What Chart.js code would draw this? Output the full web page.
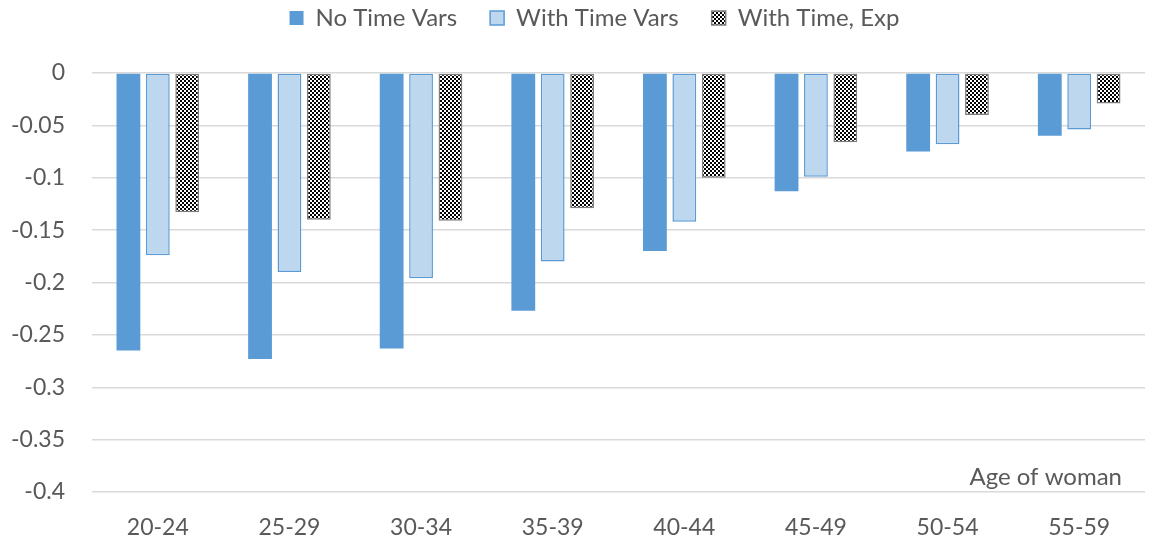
<!DOCTYPE html>
<html><head><meta charset="utf-8">
<script src="https://cdn.jsdelivr.net/npm/chart.js@4.4.1/dist/chart.umd.min.js"></script>
<style>html,body{margin:0;padding:0;background:#fff;}#wrap{width:1150px;height:539px;position:relative;}</style>
</head><body><div id="wrap"><canvas id="c" width="1150" height="539"></canvas></div>
<script>
const categories = ["20-24","25-29","30-34","35-39","40-44","45-49","50-54","55-59"];
const noTimeVars = [-0.265,-0.273,-0.263,-0.227,-0.170,-0.113,-0.075,-0.060];
const withTimeVars = [-0.174,-0.190,-0.196,-0.180,-0.142,-0.099,-0.068,-0.054];
const withTimeExp = [-0.133,-0.140,-0.141,-0.129,-0.100,-0.066,-0.040,-0.029];
const seriesNames = ["No Time Vars","With Time Vars","With Time, Exp"];
const axisTitle = "Age of woman";

const pc = document.createElement('canvas'); pc.width = 4; pc.height = 4;
const px = pc.getContext('2d');
px.fillStyle = '#fff'; px.fillRect(0,0,4,4);
px.fillStyle = '#000'; px.fillRect(0,0,2,2); px.fillRect(2,2,2,2);
const checker = document.getElementById('c').getContext('2d').createPattern(pc,'repeat');

const FONT = "Lato, sans-serif";
const textColor = '#595959';

const titlePlugin = {
  id:'axisTitleInside',
  afterDraw(chart){
    const {ctx, chartArea} = chart;
    ctx.save();
    ctx.font = "24px " + FONT;
    ctx.fillStyle = textColor;
    ctx.textAlign = 'right';
    ctx.textBaseline = 'alphabetic';
    ctx.fillText(axisTitle, chartArea.right - 23, chartArea.bottom - 7);
    ctx.restore();
  }
};

const legendFit = {
  id:'legendFit',
  beforeInit(chart){
    const lg = chart.legend;
    const orig = lg.fit;
    lg.fit = function(){ orig.call(this); this.height = 100; };
  },
  afterLayout(chart){ chart.legend.left += 40; }
};

new Chart(document.getElementById('c'), {
  type:'bar',
  data:{
    labels: categories,
    datasets:[
      {label:seriesNames[0], data:noTimeVars, backgroundColor:'#5b9bd5', borderColor:'#5b9bd5', borderWidth:0},
      {label:seriesNames[1], data:withTimeVars, backgroundColor:'#bdd7ee', borderColor:'#5b9bd5', borderWidth:1.5},
      {label:seriesNames[2], data:withTimeExp, backgroundColor:checker, borderColor:'#7f7f7f', borderWidth:1.5}
    ]
  },
  options:{
    responsive:false,
    animation:false,
    layout:{padding:{top:-27,right:5,left:4,bottom:2}},
    datasets:{bar:{categoryPercentage:0.67, barPercentage:0.81, borderSkipped:false}},
    plugins:{
      legend:{
        position:'top',
        labels:{boxWidth:14, boxHeight:14, color:textColor, font:{family:FONT,size:24}, padding:33},
      },
      tooltip:{enabled:false}
    },
    scales:{
      x:{
        grid:{display:false, drawTicks:false},
        border:{display:false},
        ticks:{color:textColor, font:{family:FONT,size:23}, padding:22},
        afterFit(s){ s.height = 45; }
      },
      y:{
        min:-0.4, max:0,
        grid:{color:'#d9d9d9', lineWidth:1.5, drawTicks:false},
        border:{display:false},
        ticks:{stepSize:0.05, color:textColor, font:{family:FONT,size:23}, padding:27,
          callback:(v)=>String(Number(v.toFixed(2)))},
        afterFit(s){ s.width = 88; }
      }
    }
  },
  plugins:[titlePlugin, legendFit]
});
</script></body></html>
